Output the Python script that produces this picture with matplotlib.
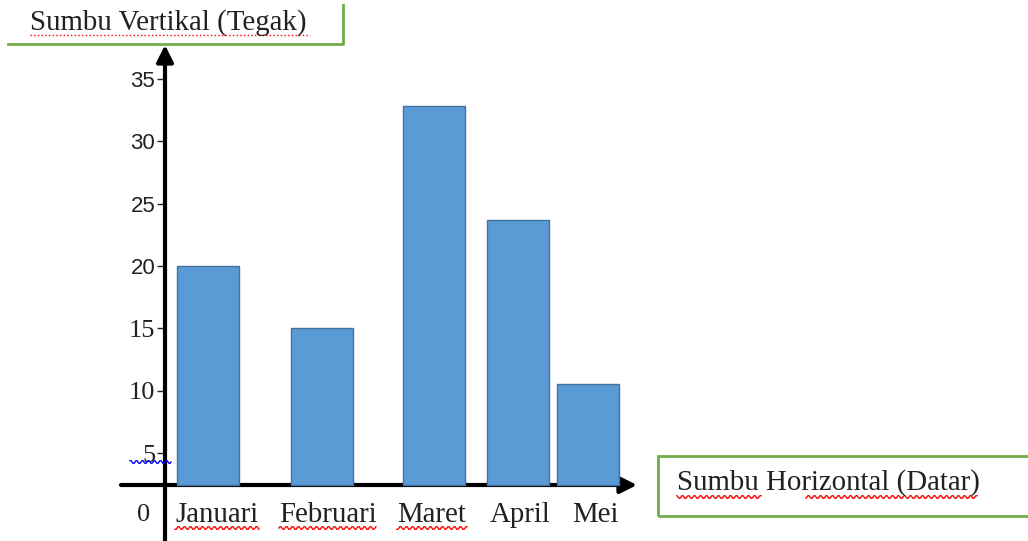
import numpy as np
import matplotlib.pyplot as plt
from matplotlib.patches import Rectangle
from matplotlib.lines import Line2D

# data
bulan = ['Januari', 'Februari', 'Maret', 'April', 'Mei']
nilai = [20, 15, 32.8, 23.7, 10.5]
yticks = [5, 10, 15, 20, 25, 30, 35]

W, H = 1028, 541
# layout in pixels of the original picture
posisi = [208, 322, 434, 518, 588]
posisi_label = [217, 328, 432, 520, 595]
lebar = 62
SERIF = 'Liberation Serif'
SANS = 'Liberation Sans'
FS = 20.8


def val(py):
    # pixel row -> value on the y scale (5 sits at row 453, 12.47 px per unit)
    return 5 + (453 - py) / 12.47


def fx(px):
    return px / W


def fy(py):
    return 1 - py / H


def wavy(x0, x1, y, color):
    # spell-check squiggle
    xs = np.arange(x0, x1, 1.0)
    ys = y + 1.5 * np.sin(xs / 6.0 * 2 * np.pi)
    fig.add_artist(Line2D(fx(xs), fy(ys), color=color, lw=1))


fig = plt.figure(figsize=(10.28, 5.41), dpi=100)
ax = fig.add_axes([0, 0, 1, 1])
ax.set_xlim(0, W)
ax.set_ylim(val(H), val(0))
base = val(485)

ax.bar(posisi, [v - base for v in nilai], bottom=base, width=lebar,
       color='#5B9BD5', edgecolor='#41719C', linewidth=1, zorder=2)

# axes with arrows
for s in ['top', 'right', 'bottom']:
    ax.spines[s].set_visible(False)
ax.spines['left'].set_position(('data', 165))
ax.spines['left'].set_visible(False)
ax.set_xticks([])
ax.set_yticks(yticks)
ax.set_yticklabels([str(t) for t in yticks])
ax.tick_params(axis='y', direction='out', length=6, width=1, pad=1, colors='#222222')
for lab, t in zip(ax.get_yticklabels(), yticks):
    if t >= 20:
        lab.set_fontfamily(SANS)
        lab.set_fontsize(16)
    else:
        lab.set_fontfamily(SERIF)
        lab.set_fontsize(19)

ax.annotate('', xy=(165, val(45)), xytext=(165, val(H + 5)),
            arrowprops=dict(arrowstyle='-|>', lw=3, color='black',
                            mutation_scale=25, shrinkA=0, shrinkB=0), zorder=3)
ax.annotate('', xy=(637, base), xytext=(121, base),
            arrowprops=dict(arrowstyle='-|>', lw=3, color='black',
                            mutation_scale=25, shrinkA=0, shrinkB=0), zorder=1)

ax.text(150, 0, '0', fontsize=19, family=SERIF, ha='right', va='center', color='#222222')
for p, b in zip(posisi_label, bulan):
    ax.text(p, 0, b, fontsize=FS, family=SERIF, ha='center', va='center', color='#222222')

# label boxes
hijau = '#70AD47'
fig.add_artist(Line2D([fx(8), fx(343), fx(343)], [fy(44), fy(44), fy(5)], color=hijau, lw=2))
fig.text(fx(30), fy(23), 'Sumbu Vertikal (Tegak)', fontsize=FS, family=SERIF,
         va='center', color='#222222')
fig.add_artist(Line2D([fx(30), fx(310)], [fy(35), fy(35)], color='red', lw=1, ls=':'))

fig.add_artist(Rectangle((fx(658), fy(516)), fx(380), fy(456) - fy(516),
                         fill=False, edgecolor=hijau, lw=2))
fig.text(fx(677), fy(483), 'Sumbu Horizontal (Datar)', fontsize=FS, family=SERIF,
         va='center', color='#222222')

wavy(677, 762, 497, 'red')
wavy(806, 978, 497, 'red')
wavy(175, 260, 528, 'red')
wavy(279, 377, 528, 'red')
wavy(397, 468, 528, 'red')
wavy(130, 172, 462, 'blue')

fig.savefig('out.png', dpi=100)
